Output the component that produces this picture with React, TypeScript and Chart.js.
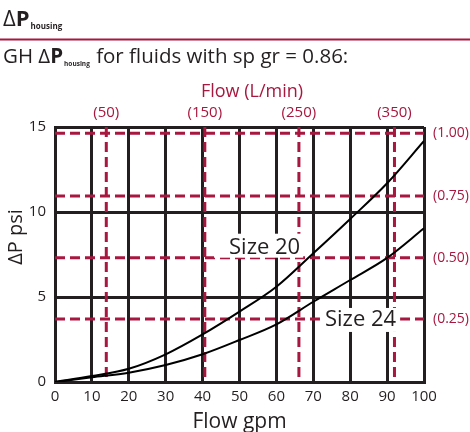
import React, { useEffect, useRef } from "react";
import { Chart, registerables } from "chart.js";

Chart.register(...registerables);

// ---- data ----
const flowGpm = [0, 10, 20, 30, 40, 50, 60, 70, 80, 90, 100];
const size20Psi = [0, 0.35, 0.78, 1.63, 2.8, 4.14, 5.6, 7.57, 9.59, 11.69, 14.18];
const size24Psi = [0, 0.28, 0.55, 1.0, 1.63, 2.47, 3.39, 4.72, 6.0, 7.3, 9.04];

// secondary reference lines (bar on the right, L/min on top)
const barLabels = ["(0.25)", "(0.50)", "(0.75)", "(1.00)"];
const barPsi = [3.7, 7.31, 10.94, 14.63];
const lpmLabels = ["(50)", "(150)", "(250)", "(350)"];
const lpmGpm = [13.9, 40.6, 66.1, 92.0];

const seriesLabels = ["Size 20", "Size 24"];
const seriesLabelGpm = [56.8, 82.8];
const seriesLabelPsi = [7.9, 3.65];

const titleLine1 = "ΔP";
const titleSub = "housing";
const subtitlePrefix = "GH ";
const subtitleSuffix = " for fluids with sp gr = 0.86:";
const xTitle = "Flow gpm";
const yTitle = "ΔP psi";
const topTitle = "Flow (L/min)";

const DARK = "#231f20";
const RED = "#a8173f";
const FONT = '"Open Sans", "Noto Sans", sans-serif';

export default function App() {
  const ref = useRef<HTMLCanvasElement | null>(null);

  useEffect(() => {
    const canvas = ref.current;
    if (!canvas) return;

    const hLines = barPsi.map((v) => ({
      data: [
        { x: 0, y: v },
        { x: 100, y: v },
      ],
      borderColor: RED,
      borderWidth: 3,
      borderDash: [10, 5],
      pointRadius: 0,
      tension: 0,
    }));
    const vLines = lpmGpm.map((v) => ({
      data: [
        { x: v, y: 15 },
        { x: v, y: 0 },
      ],
      borderColor: RED,
      borderWidth: 3,
      borderDash: [10, 5],
      pointRadius: 0,
      tension: 0,
    }));

    const textPlugin = {
      id: "texts",
      afterDatasetsDraw(chart: any) {
        const { ctx } = chart;
        const x = chart.scales.x;
        const y = chart.scales.y;
        ctx.save();
        // white label boxes
        const boxes = [
          { l: 15, r: 3, t: 14, b: 10 },
          { l: 5, r: 4, t: 12, b: 12 },
        ];
        ctx.font = `22px ${FONT}`;
        seriesLabels.forEach((lab, i) => {
          const cx = x.getPixelForValue(seriesLabelGpm[i]);
          const cy = y.getPixelForValue(seriesLabelPsi[i]);
          const w = ctx.measureText(lab).width;
          const bx = boxes[i];
          ctx.fillStyle = "#ffffff";
          ctx.fillRect(cx - w / 2 - bx.l, cy - bx.t, w + bx.l + bx.r, bx.t + bx.b);
          ctx.fillStyle = DARK;
          ctx.textAlign = "center";
          ctx.textBaseline = "middle";
          ctx.fillText(lab, cx, cy);
        });
        ctx.restore();
      },
      afterDraw(chart: any) {
        const { ctx } = chart;
        const x = chart.scales.x;
        const y = chart.scales.y;
        const area = chart.chartArea;
        ctx.save();
        ctx.textBaseline = "alphabetic";
        ctx.textAlign = "left";
        // header line 1
        ctx.fillStyle = DARK;
        let cx = 3;
        ctx.font = `22px ${FONT}`;
        ctx.fillText(titleLine1[0], cx, 26);
        cx += ctx.measureText(titleLine1[0]).width;
        ctx.font = `bold 22px ${FONT}`;
        ctx.fillText(titleLine1[1], cx, 26);
        cx += ctx.measureText(titleLine1[1]).width + 1;
        ctx.font = `bold 8px ${FONT}`;
        ctx.fillText(titleSub, cx, 29);
        // rule
        ctx.fillStyle = RED;
        ctx.fillRect(0, 38.5, 470, 2);
        // header line 2
        ctx.fillStyle = DARK;
        cx = 3;
        ctx.font = `20.5px ${FONT}`;
        ctx.fillText(subtitlePrefix + titleLine1[0], cx, 63);
        cx += ctx.measureText(subtitlePrefix + titleLine1[0]).width;
        ctx.font = `bold 20.5px ${FONT}`;
        ctx.fillText(titleLine1[1], cx, 63);
        cx += ctx.measureText(titleLine1[1]).width + 1;
        ctx.font = `bold 6.5px ${FONT}`;
        ctx.fillText(titleSub, cx, 66);
        cx += ctx.measureText(titleSub).width + 1;
        ctx.font = `20.5px ${FONT}`;
        ctx.fillText(subtitleSuffix, cx, 63);

        // top axis title and labels
        ctx.fillStyle = RED;
        ctx.textAlign = "center";
        ctx.font = `18px ${FONT}`;
        ctx.fillText(topTitle, 252, 97);
        ctx.font = `15px ${FONT}`;
        lpmLabels.forEach((lab, i) => {
          ctx.fillText(lab, x.getPixelForValue(lpmGpm[i]), 117);
        });
        // right labels
        ctx.textAlign = "left";
        ctx.textBaseline = "middle";
        ctx.font = `14px ${FONT}`;
        barLabels.forEach((lab, i) => {
          ctx.fillText(lab, area.right + 9, y.getPixelForValue(barPsi[i]));
        });

        // axis titles
        ctx.fillStyle = DARK;
        ctx.textAlign = "center";
        ctx.textBaseline = "alphabetic";
        ctx.font = `21px ${FONT}`;
        ctx.fillText(xTitle, (area.left + area.right) / 2, 428);
        ctx.font = `20px ${FONT}`;
        ctx.translate(22, 237);
        ctx.rotate(-Math.PI / 2);
        ctx.fillText(yTitle, 0, 0);
        ctx.restore();
      },
    };

    const chart = new Chart(canvas, {
      type: "line",
      data: {
        datasets: [
          {
            label: seriesLabels[0],
            data: flowGpm.map((g, i) => ({ x: g, y: size20Psi[i] })),
            borderColor: "#000000",
            borderWidth: 2,
            pointRadius: 0,
            cubicInterpolationMode: "monotone",
          },
          {
            label: seriesLabels[1],
            data: flowGpm.map((g, i) => ({ x: g, y: size24Psi[i] })),
            borderColor: "#000000",
            borderWidth: 2,
            pointRadius: 0,
            cubicInterpolationMode: "monotone",
          },
          ...hLines,
          ...vLines,
        ] as any,
      },
      options: {
        animation: false,
        responsive: false,
        devicePixelRatio: 1,
        layout: { padding: { top: 127, right: 46, bottom: 0, left: 0 } },
        plugins: { legend: { display: false }, tooltip: { enabled: false } },
        scales: {
          x: {
            type: "linear",
            min: 0,
            max: 100,
            ticks: {
              stepSize: 10,
              color: DARK,
              font: { family: FONT, size: 15 },
              padding: 6,
              maxRotation: 0,
            },
            grid: { color: DARK, lineWidth: 3, drawTicks: false },
            border: { color: DARK, width: 3 },
            afterFit: (s: any) => {
              s.height = 50;
            },
          },
          y: {
            type: "linear",
            min: 0,
            max: 15,
            ticks: {
              stepSize: 5,
              color: DARK,
              font: { family: FONT, size: 15 },
              padding: 9,
            },
            grid: { color: DARK, lineWidth: 3, drawTicks: false },
            border: { color: DARK, width: 3 },
            afterFit: (s: any) => {
              s.width = 55;
            },
          },
        },
      },
      plugins: [textPlugin],
    });
    return () => chart.destroy();
  }, []);

  return (
    <div style={{ position: "absolute", left: 0, top: 0, width: 470, height: 432, background: "#fff" }}>
      <canvas ref={ref} width={470} height={432} style={{ display: "block" }} />
    </div>
  );
}
